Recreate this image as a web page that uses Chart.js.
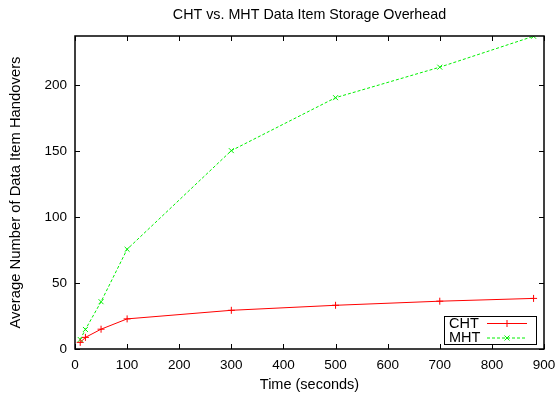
<!DOCTYPE html>
<html>
<head>
<meta charset="utf-8">
<script src="https://cdn.jsdelivr.net/npm/chart.js@4"></script>
<style>
html,body{margin:0;padding:0;background:#fff;}
#wrap{width:558px;height:394px;position:relative;}
</style>
</head>
<body>
<div id="wrap"><canvas id="c" width="558" height="394"></canvas></div>
<script>
const timeSeconds = [10, 20, 50, 100, 300, 500, 700, 880];
const chtValues = [5, 8.8, 15, 22.8, 29.3, 33.1, 36.2, 38.3];
const mhtValues = [7.2, 14.8, 35.8, 75.5, 150.2, 190.3, 213.4, 236.8];
const xTicks = [0, 100, 200, 300, 400, 500, 600, 700, 800, 900];
const yTicks = [0, 50, 100, 150, 200];
const seriesNames = ['CHT', 'MHT'];
const chartTitle = 'CHT vs. MHT Data Item Storage Overhead';
const xTitle = 'Time (seconds)';
const yTitle = 'Average Number of Data Item Handovers';

const FONT = '"Liberation Sans", Arial, Helvetica, sans-serif';

const framePlugin = {
  id: 'frame',
  afterDraw(chart) {
    const {ctx, chartArea: a, scales} = chart;
    ctx.save();
    ctx.strokeStyle = '#000';
    ctx.lineWidth = 1;
    // ticks
    ctx.beginPath();
    xTicks.forEach(v => {
      const x = Math.round(scales.x.getPixelForValue(v)) + 0.5;
      ctx.moveTo(x, a.bottom); ctx.lineTo(x, a.bottom - 5);
      ctx.moveTo(x, a.top); ctx.lineTo(x, a.top + 5);
    });
    yTicks.forEach(v => {
      const y = Math.round(scales.y.getPixelForValue(v)) + 0.5;
      ctx.moveTo(a.left, y); ctx.lineTo(a.left + 5, y);
      ctx.moveTo(a.right, y); ctx.lineTo(a.right - 5, y);
    });
    ctx.stroke();
    ctx.lineWidth = 1.5;
    ctx.strokeRect(a.left, a.top, a.right - a.left, a.bottom - a.top);

    // title
    ctx.fillStyle = '#000';
    ctx.font = '14.3px ' + FONT;
    ctx.textAlign = 'center';
    ctx.textBaseline = 'middle';
    ctx.fillText(chartTitle, (a.left + a.right) / 2, 15);

    // legend
    const bx = a.right - 100, by = a.bottom - 33, bw = 92, bh = 28;
    ctx.fillStyle = '#fff';
    ctx.fillRect(bx, by, bw, bh);
    ctx.lineWidth = 1;
    ctx.strokeStyle = '#000';
    ctx.strokeRect(bx + 0.5, by + 0.5, bw, bh);
    ctx.font = '14.5px ' + FONT;
    ctx.textAlign = 'left';
    ctx.fillStyle = '#000';
    const ds = chart.data.datasets;
    [0, 1].forEach(i => {
      const ly = by + 7.5 + i * 14.5;
      ctx.fillText(seriesNames[i], bx + 5, ly);
      ctx.strokeStyle = ds[i].borderColor;
      ctx.lineWidth = 1;
      ctx.setLineDash(ds[i].borderDash || []);
      ctx.beginPath();
      ctx.moveTo(bx + 43, ly); ctx.lineTo(bx + 83, ly);
      ctx.stroke();
      ctx.setLineDash([]);
      const mx = bx + 63;
      ctx.beginPath();
      if (i === 0) {
        ctx.moveTo(mx - 3.5, ly); ctx.lineTo(mx + 3.5, ly);
        ctx.moveTo(mx, ly - 3.5); ctx.lineTo(mx, ly + 3.5);
      } else {
        ctx.moveTo(mx - 2.5, ly - 2.5); ctx.lineTo(mx + 2.5, ly + 2.5);
        ctx.moveTo(mx - 2.5, ly + 2.5); ctx.lineTo(mx + 2.5, ly - 2.5);
      }
      ctx.stroke();
    });
    ctx.restore();
  }
};

new Chart(document.getElementById('c'), {
  type: 'line',
  data: {
    datasets: [
      {
        label: seriesNames[0],
        data: timeSeconds.map((t, i) => ({x: t, y: chtValues[i]})),
        borderColor: '#ff0000',
        backgroundColor: '#ff0000',
        borderWidth: 1,
        pointStyle: 'cross',
        pointRadius: 3.5,
        pointBorderWidth: 1,
        tension: 0,
        fill: false
      },
      {
        label: seriesNames[1],
        data: timeSeconds.map((t, i) => ({x: t, y: mhtValues[i]})),
        borderColor: '#00f000',
        backgroundColor: '#00f000',
        borderWidth: 1,
        borderDash: [3, 2],
        pointStyle: 'crossRot',
        pointRadius: 3.5,
        pointBorderWidth: 1,
        tension: 0,
        fill: false
      }
    ]
  },
  options: {
    responsive: false,
    animation: false,
    devicePixelRatio: 1,
    layout: {padding: {top: 36, right: 14, left: 0, bottom: 0}},
    plugins: {legend: {display: false}, title: {display: false}, tooltip: {enabled: false}},
    scales: {
      x: {
        type: 'linear', min: 0, max: 900,
        afterBuildTicks: s => { s.ticks = xTicks.map(v => ({value: v})); },
        afterFit: s => { s.height = 45; s.paddingLeft = 0; s.paddingRight = 0; },
        grid: {display: false, drawTicks: false},
        border: {display: false},
        ticks: {color: '#000', padding: 8, font: {family: FONT, size: 13.5}},
        title: {display: true, text: xTitle, color: '#000', font: {family: FONT, size: 14.5}, padding: {top: 2, bottom: 0}}
      },
      y: {
        type: 'linear', min: 0, max: 237,
        afterBuildTicks: s => { s.ticks = yTicks.map(v => ({value: v})); },
        afterFit: s => { s.width = 75; s.paddingTop = 0; s.paddingBottom = 0; },
        grid: {display: false, drawTicks: false},
        border: {display: false},
        ticks: {color: '#000', padding: 8, font: {family: FONT, size: 13.5}},
        title: {display: true, text: yTitle, color: '#000', font: {family: FONT, size: 14.8}, padding: {top: 7, bottom: 0}}
      }
    }
  },
  plugins: [framePlugin]
});
</script>
</body>
</html>
